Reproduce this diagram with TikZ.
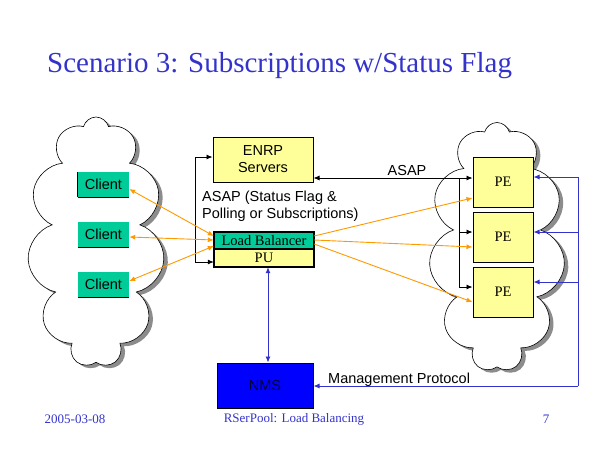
\documentclass[tikz,border=0pt]{standalone}
\usepackage{fontspec}
\setmainfont{Liberation Serif}
\newfontfamily\arial{Liberation Sans}
\usetikzlibrary{shapes.symbols,shadows,arrows.meta}
\definecolor{ttl}{HTML}{3333CC}
\definecolor{grn}{HTML}{00CC99}
\definecolor{ylw}{HTML}{FFFF99}
\definecolor{org}{HTML}{FF9900}
\definecolor{nmsblue}{HTML}{0000FF}
\begin{document}
\begin{tikzpicture}[x=1pt,y=-1pt,
  cloudshape/.style={cloud, cloud puffs=11, cloud ignores aspect, draw=black, fill=white, line width=0.6pt,
    drop shadow={shadow xshift=4pt, shadow yshift=-3pt, fill=gray!90, opacity=1}},
  clientbox/.style={fill=grn, minimum width=51pt, minimum height=25pt, inner sep=0pt, font=\arial\fontsize{14.5}{16}\selectfont},
  pebox/.style={draw=black, line width=1pt, fill=ylw, minimum width=60pt, minimum height=50pt, inner sep=0pt, font=\fontsize{14.5}{16}\selectfont},
  lbl/.style={font=\arial\fontsize{14.5}{17}\selectfont, inner sep=0pt},
  foot/.style={text=ttl, font=\fontsize{13}{15}\selectfont, inner sep=0pt},
  blk/.style={draw=black, line width=0.8pt, -{Latex[length=6pt,width=5pt]}},
  org/.style={draw=org, line width=0.9pt, -{Latex[length=6pt,width=5pt]}},
  blu/.style={draw=ttl, line width=0.9pt, -{Latex[length=6pt,width=5pt]}}]
\useasboundingbox (0,0) rectangle (600,450);
% title
\node[text=ttl, font=\fontsize{29}{33}\selectfont, inner sep=0pt, anchor=base west] (title) at (47,72) {Scenario 3: Subscriptions w/Status Flag};
% clouds
\node[cloudshape, minimum width=137pt, minimum height=250pt] (lcloud) at (96,242) {};
\node[cloudshape, minimum width=136pt, minimum height=249pt] (rcloud) at (497,247) {};
% clients
\node[clientbox] (c1) at (103.5,184.5) {Client};
\node[clientbox] (c2) at (103.5,234.5) {Client};
\node[clientbox] (c3) at (103.5,284.5) {Client};
\foreach \c in {c1,c2,c3} \draw[line width=1pt] (\c.south west) -- (\c.south east);
\draw[line width=1pt] (c1.south west) -- (c1.north west);
% ENRP
\node[draw=black, line width=1pt, fill=ylw, minimum width=100pt, minimum height=45pt, inner sep=0pt, align=center,
  font=\arial\fontsize{14.5}{17}\selectfont] (enrp) at (263,159.5) {ENRP\\Servers};
% LB / PU
\node[fill=grn, minimum width=100pt, minimum height=17pt, inner sep=0pt, font=\fontsize{14.5}{16}\selectfont] (lb) at (264,240.5) {Load Balancer};
\node[fill=ylw, minimum width=100pt, minimum height=18pt, inner sep=0pt, font=\fontsize{14.5}{16}\selectfont] (pu) at (264,258) {PU};
\draw[line width=2pt] (lb.north west) rectangle (pu.south east);
\draw[line width=1.5pt] (lb.south west) -- (lb.south east);
\node[lbl, align=left, anchor=north west] (asaplbl) at (202,191) {ASAP (Status Flag \&\\Polling or Subscriptions)};
% PEs
\node[pebox] (pe1) at (503,182) {PE};
\node[pebox] (pe2) at (503,237) {PE};
\node[pebox] (pe3) at (503,292) {PE};
% NMS
\node[draw=black, line width=1pt, fill=nmsblue, minimum width=96pt, minimum height=45pt, inner sep=0pt,
  font=\arial\fontsize{14.5}{17}\selectfont, text=black!80!blue] (nms) at (265,385.5) {NMS};
% black connectors
\coordinate (bl1) at (195,157);
\coordinate (bl2) at (195,262);
\draw[blk, {Latex[length=6pt,width=5pt]}-{Latex[length=6pt,width=5pt]}] (enrp.west |- bl1) -- (bl1) -- (bl2) -- (pu.west |- bl2);
\coordinate (av) at (459,178);
\draw[blk, {Latex[length=6pt,width=5pt]}-{Latex[length=6pt,width=5pt]}] (enrp.east |- av) -- (pe1.west |- av);
\coordinate (av2) at (459,232);
\coordinate (av3) at (459,287);
\draw[line width=0.8pt] (av) -- (av3);
\draw[blk] (av2) -- (pe2.west |- av2);
\draw[blk] (av3) -- (pe3.west |- av3);
\node[lbl, anchor=base] (asap) at (407,175) {ASAP};
% orange
\draw[org, {Latex[length=6pt,width=5pt]}-{Latex[length=6pt,width=5pt]}] (lb.west |- 0,236) -- (c1.east |- 0,189);
\draw[org, {Latex[length=6pt,width=5pt]}-{Latex[length=6pt,width=5pt]}] (lb.west |- 0,240) -- (c2.east |- 0,237);
\draw[org, {Latex[length=6pt,width=5pt]}-{Latex[length=6pt,width=5pt]}] (lb.west |- 0,246) -- (c3.east |- 0,281);
\draw[org] (lb.east |- 0,236) -- (pe1.west |- 0,198);
\draw[org] (lb.east |- 0,240) -- (pe2.west |- 0,247);
\draw[org] (lb.east |- 0,244) -- (pe3.west |- 0,302);
% blue
\coordinate (bv1) at (578,177);
\coordinate (bv2) at (578,232);
\coordinate (bv3) at (578,282);
\coordinate (bv4) at (578,386);
\draw[line width=0.9pt, draw=ttl] (bv1) -- (bv4);
\draw[blu] (bv1) -- (pe1.east |- bv1);
\draw[blu] (bv2) -- (pe2.east |- bv2);
\draw[blu] (bv3) -- (pe3.east |- bv3);
\draw[blu] (bv4) -- (nms.east |- bv4);
\draw[blu, {Latex[length=6pt,width=5pt]}-{Latex[length=6pt,width=5pt]}] (pu.south -| 268,0) -- (nms.north -| 268,0);
\node[lbl, anchor=base west] (mgmt) at (328,383) {Management Protocol};
% footer
\node[foot] (date) at (75,419) {2005-03-08};
\node[foot] (ftitle) at (294,419) {RSerPool: Load Balancing};
\node[foot] (page) at (546,419) {7};
\end{tikzpicture}
\end{document}
